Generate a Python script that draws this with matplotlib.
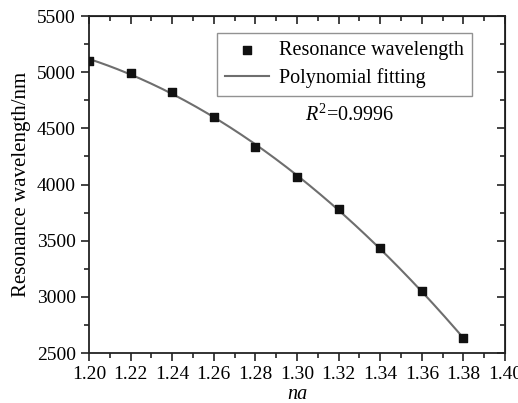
import numpy as np
import matplotlib
matplotlib.use('Agg')
import matplotlib.pyplot as plt
from matplotlib.ticker import MultipleLocator

na = [1.20, 1.22, 1.24, 1.26, 1.28, 1.30, 1.32, 1.34, 1.36, 1.38]
wavelength = [5100, 4995, 4825, 4605, 4335, 4065, 3780, 3434, 3050, 2630]

plt.rcParams['font.family'] = ['Liberation Serif', 'DejaVu Serif']
plt.rcParams['mathtext.fontset'] = 'custom'
plt.rcParams['mathtext.rm'] = 'Liberation Serif'
plt.rcParams['mathtext.it'] = 'Liberation Serif:italic'

fig = plt.figure(figsize=(5.18, 4.03), dpi=100)
ax = fig.add_axes([89/518, 1-353/403, (505-89)/518, (353-16)/403])

# polynomial fit of the points
coef = np.polyfit(na, wavelength, 2)
xf = np.linspace(na[0], na[-1], 200)
ax.plot(xf, np.polyval(coef, xf), color='#6e6e6e', lw=1.5, label='Polynomial fitting', zorder=2)
ax.scatter(na, wavelength, marker='s', s=36, color='#111111', label='Resonance wavelength', zorder=3)

ax.set_xlim(1.20, 1.40)
ax.set_ylim(2500, 5500)
ax.xaxis.set_major_locator(MultipleLocator(0.02))
ax.xaxis.set_minor_locator(MultipleLocator(0.01))
ax.yaxis.set_major_locator(MultipleLocator(500))
ax.yaxis.set_minor_locator(MultipleLocator(250))
ax.xaxis.set_major_formatter(matplotlib.ticker.FormatStrFormatter('%.2f'))
ax.tick_params(which='both', direction='out', labelsize=14, width=1.2, color='#222222')
ax.tick_params(which='major', length=6)
ax.tick_params(which='minor', length=3.5)
for s in ax.spines.values():
    s.set_linewidth(1.3)
    s.set_color('#222222')

# mirrored ticks on top/right
top = ax.secondary_xaxis('top')
top.xaxis.set_major_locator(MultipleLocator(0.02))
top.xaxis.set_minor_locator(MultipleLocator(0.01))
top.tick_params(which='both', direction='in', labeltop=False, width=1.2, color='#222222')
top.tick_params(which='major', length=6)
top.tick_params(which='minor', length=3.5)
right = ax.secondary_yaxis('right')
right.yaxis.set_major_locator(MultipleLocator(500))
right.yaxis.set_minor_locator(MultipleLocator(250))
right.tick_params(which='both', direction='in', labelright=False, width=1.2, color='#222222')
right.tick_params(which='major', length=6)
right.tick_params(which='minor', length=3.5)

ax.set_xlabel('na', fontsize=14.5, style='italic', labelpad=1)
ax.set_ylabel('Resonance wavelength/nm', fontsize=15, labelpad=4)

h, l = ax.get_legend_handles_labels()
leg = ax.legend(h[::-1], l[::-1], loc='upper right', bbox_to_anchor=(0.921, 0.95),
                borderaxespad=0, fontsize=14.5, frameon=True, fancybox=False,
                edgecolor='#777777', borderpad=0.4, handlelength=2.2,
                handletextpad=0.5, labelspacing=0.4)
leg.get_frame().set_linewidth(1.0)

ax.text(0.627, 0.707, r'$R^{2}$=0.9996', transform=ax.transAxes, fontsize=14.5,
        ha='center', va='center')

fig.savefig('out.png', dpi=100)
